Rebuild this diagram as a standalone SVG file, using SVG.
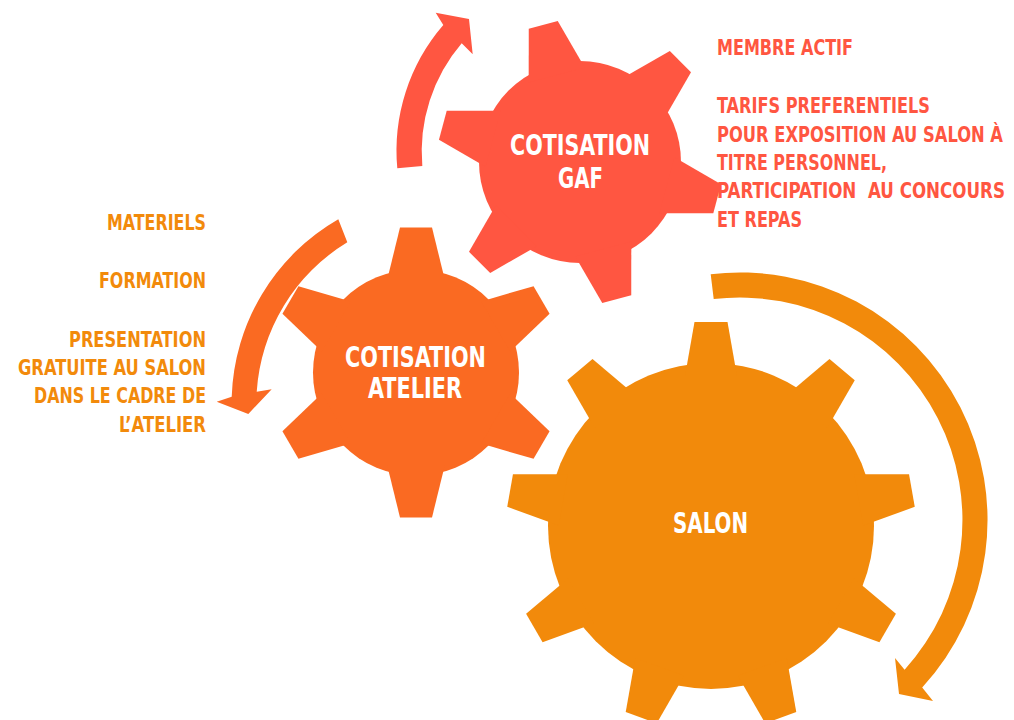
<svg xmlns="http://www.w3.org/2000/svg" xmlns:xlink="http://www.w3.org/1999/xlink" width="1014" height="720" viewBox="0 0 1014 720">
<style>
.gaf{fill:#FF5641}
.atl{fill:#FA6A22}
.sal{fill:#F28A0B}
.lbl{font-family:"DejaVu Sans Condensed","Liberation Sans",sans-serif;font-weight:bold;fill:#ffffff;font-size:29px;text-anchor:middle}
.side{font-family:"DejaVu Sans Condensed","Liberation Sans",sans-serif;font-weight:bold;font-size:22px}
.left{fill:#F28A0B;text-anchor:end}
.right{fill:#FF5641}
</style>
<defs>
<path id="tG" d="M-15 -142 L15 -142 L29 -90 L-29 -90 Z"/>
<path id="tA" d="M-16 -145 L16 -145 L29 -92 L-29 -92 Z"/>
<path id="tS" d="M-16.5 -204 L16.5 -204 L26 -150 L-26 -150 Z"/>
</defs>
<rect width="1014" height="720" fill="#ffffff"/>
<g id="connectors">
<path class="gaf" d="M397.3 168.3 A192.2 192.2 0 0 1 443.3 25 L435.7 12.7 L469 19 L472.7 54.3 L461.7 43.3 A166.7 166.7 0 0 0 422.3 166 Z"/>
<path class="atl" d="M338.3 219.3 A212.8 212.8 0 0 0 231.7 396.7 L216.7 401.7 L248.3 414 L271.7 389.3 L256.7 391.7 A189 189 0 0 1 347.3 242.3 Z"/>
<path class="sal" d="M710.7 274.2 A247.5 247.5 0 0 1 922.2 687.5 L933 701 L899 694 L895 658 L904.6 669.7 A222.5 222.5 0 0 0 713.7 299.1 Z"/>
</g>
<g id="gear-gaf">
<g class="gaf" transform="translate(580 162)">
<circle r="101"/>
<use xlink:href="#tG" transform="rotate(-15)"/>
<use xlink:href="#tG" transform="rotate(45)"/>
<use xlink:href="#tG" transform="rotate(105)"/>
<use xlink:href="#tG" transform="rotate(165)"/>
<use xlink:href="#tG" transform="rotate(225)"/>
<use xlink:href="#tG" transform="rotate(285)"/>
</g>
<text class="lbl" x="580" y="155" textLength="140" lengthAdjust="spacingAndGlyphs">COTISATION</text>
<text class="lbl" x="580.5" y="188" textLength="45" lengthAdjust="spacingAndGlyphs">GAF</text>
</g>
<g id="gear-atelier">
<g class="atl" transform="translate(416 372.5)">
<circle r="103"/>
<use xlink:href="#tA"/>
<use xlink:href="#tA" transform="rotate(60)"/>
<use xlink:href="#tA" transform="rotate(120)"/>
<use xlink:href="#tA" transform="rotate(180)"/>
<use xlink:href="#tA" transform="rotate(240)"/>
<use xlink:href="#tA" transform="rotate(300)"/>
</g>
<text class="lbl" x="415.5" y="367" textLength="141" lengthAdjust="spacingAndGlyphs">COTISATION</text>
<text class="lbl" x="415" y="398" textLength="94" lengthAdjust="spacingAndGlyphs">ATELIER</text>
</g>
<g id="gear-salon">
<g class="sal" transform="translate(711 526)">
<circle r="163"/>
<use xlink:href="#tS"/>
<use xlink:href="#tS" transform="rotate(40)"/>
<use xlink:href="#tS" transform="rotate(80)"/>
<use xlink:href="#tS" transform="rotate(120)"/>
<use xlink:href="#tS" transform="rotate(160)"/>
<use xlink:href="#tS" transform="rotate(200)"/>
<use xlink:href="#tS" transform="rotate(240)"/>
<use xlink:href="#tS" transform="rotate(280)"/>
<use xlink:href="#tS" transform="rotate(320)"/>
</g>
<text class="lbl" x="710.5" y="533" textLength="75" lengthAdjust="spacingAndGlyphs">SALON</text>
</g>
<g id="notes-atelier" class="side left">
<text x="206" y="230" textLength="99" lengthAdjust="spacingAndGlyphs">MATERIELS</text>
<text x="206" y="288" textLength="107" lengthAdjust="spacingAndGlyphs">FORMATION</text>
<text x="206" y="347" textLength="137" lengthAdjust="spacingAndGlyphs">PRESENTATION</text>
<text x="206" y="375" textLength="188" lengthAdjust="spacingAndGlyphs">GRATUITE AU SALON</text>
<text x="206" y="403" textLength="172" lengthAdjust="spacingAndGlyphs">DANS LE CADRE DE</text>
<text x="206" y="432" textLength="87" lengthAdjust="spacingAndGlyphs">L’ATELIER</text>
</g>
<g id="notes-gaf" class="side right">
<text x="717" y="55" textLength="136" lengthAdjust="spacingAndGlyphs">MEMBRE ACTIF</text>
<text x="717" y="113" textLength="213" lengthAdjust="spacingAndGlyphs">TARIFS PREFERENTIELS</text>
<text x="717" y="142" textLength="286" lengthAdjust="spacingAndGlyphs">POUR EXPOSITION AU SALON À</text>
<text x="717" y="170" textLength="170" lengthAdjust="spacingAndGlyphs">TITRE PERSONNEL,</text>
<text x="717" y="198" textLength="288" lengthAdjust="spacingAndGlyphs" xml:space="preserve">PARTICIPATION  AU CONCOURS</text>
<text x="717" y="227" textLength="85" lengthAdjust="spacingAndGlyphs">ET REPAS</text>
</g>
</svg>
